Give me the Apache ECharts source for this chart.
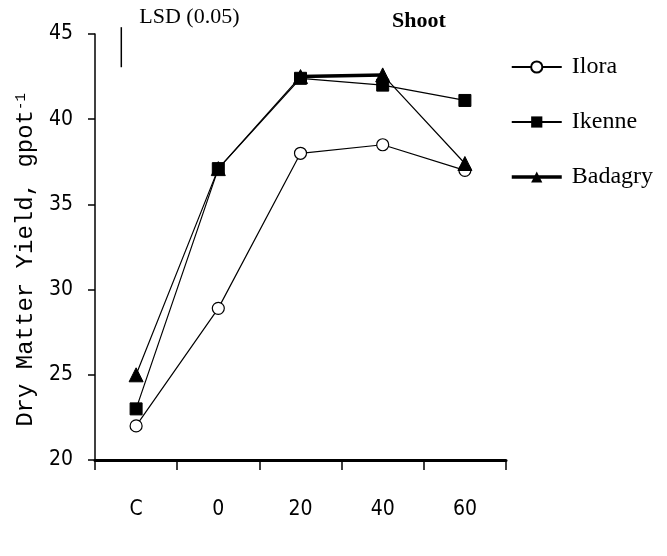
<!DOCTYPE html>
<html>
<head>
<meta charset="utf-8">
<script src="https://cdn.jsdelivr.net/npm/echarts@6/dist/echarts.min.js"></script>
<style>
html,body{margin:0;padding:0;background:#fff;}
#main{width:667px;height:556px;}
</style>
</head>
<body>
<div id="main"></div>
<script>
const categories = ['C', '0', '20', '40', '60'];
const ilora   = [22.0, 28.9, 38.0, 38.5, 37.0];
const ikenne  = [23.0, 37.1, 42.4, 42.0, 41.1];
const badagry = [25.0, 37.1, 42.5, 42.6, 37.4];
const yTicks = { min: 20, max: 45, interval: 5 };
const lsdValue = 2.35;
const lsdTop = 45.4;

const tickFont = "'DejaVu Sans Condensed', 'Liberation Sans', sans-serif";
const serifFont = "'Liberation Serif', serif";

const chart = echarts.init(document.getElementById('main'), null, { renderer: 'canvas' });

const thin = { color: '#000', width: 1.2 };

chart.setOption({
  animation: false,
  backgroundColor: '#fff',
  title: {
    text: 'Shoot',
    left: 387, top: 5,
    textStyle: { fontFamily: serifFont, fontWeight: 'bold', fontSize: 22, color: '#000' }
  },
  grid: { left: 95, top: 34, right: 161, bottom: 96, containLabel: false },
  legend: {
    orient: 'vertical',
    left: 505, top: 50,
    itemWidth: 50, itemHeight: 14, itemGap: 31,
    textStyle: { fontFamily: serifFont, fontSize: 24, color: '#000', padding: [0, 0, 0, 5] },
    data: [
      { name: 'Ilora' },
      { name: 'Ikenne' },
      { name: 'Badagry', lineStyle: { width: 3.5 } }
    ]
  },
  xAxis: {
    type: 'category',
    data: categories,
    boundaryGap: true,
    axisLine: { lineStyle: { color: '#000', width: 3 } },
    axisTick: { show: true, length: 10, lineStyle: { color: '#000', width: 1.5 } },
    axisLabel: { margin: 39, fontFamily: tickFont, fontSize: 21, color: '#000' },
    splitLine: { show: false }
  },
  yAxis: {
    type: 'value',
    min: yTicks.min, max: yTicks.max, interval: yTicks.interval,
    name: '{a|Dry Matter Yield, gpot}{b|-1}',
    nameLocation: 'middle',
    nameRotate: 90,
    nameGap: 55,
    nameTextStyle: {
      padding: [0, 26, 0, 0],
      rich: {
        a: { fontFamily: "'Liberation Mono', monospace", fontSize: 24, color: '#000' },
        b: { fontFamily: "'Liberation Mono', monospace", fontSize: 14, color: '#000', verticalAlign: 'top' }
      }
    },
    axisLine: { show: true, lineStyle: { color: '#000', width: 1.5 } },
    axisTick: { show: true, length: 7, lineStyle: { color: '#000', width: 1.5 } },
    axisLabel: { margin: 22, fontFamily: tickFont, fontSize: 21, color: '#000' },
    splitLine: { show: false }
  },
  series: [
    {
      name: 'Ilora', type: 'line', data: ilora,
      symbol: 'circle', symbolSize: 12,
      itemStyle: { color: '#fff', borderColor: '#000', borderWidth: 1.2 },
      lineStyle: thin, z: 3
    },
    {
      name: 'Ikenne', type: 'line', data: ikenne,
      symbol: 'rect', symbolSize: 12,
      itemStyle: { color: '#000', borderColor: '#000' },
      lineStyle: thin, z: 4
    },
    {
      name: 'Badagry', type: 'line', data: badagry,
      symbol: 'triangle', symbolSize: 14,
      itemStyle: { color: '#000', borderColor: '#000' },
      lineStyle: thin, z: 5
    },
    {
      name: 'BadagryPlateau', type: 'line',
      data: badagry.map((v, i) => (i === 2 || i === 3) ? v : null),
      symbol: 'none', connectNulls: false,
      lineStyle: { color: '#000', width: 3.5 }, z: 5, silent: true
    }
  ]
});

// LSD bar drawn from its value through the y scale
const xC = chart.convertToPixel({ xAxisIndex: 0 }, 0);
const bandW = chart.convertToPixel({ xAxisIndex: 0 }, 1) - xC;
const yTop = chart.convertToPixel({ yAxisIndex: 0 }, lsdTop);
const yBot = chart.convertToPixel({ yAxisIndex: 0 }, lsdTop - lsdValue);
const xL = xC - bandW * 0.18;
chart.setOption({
  graphic: [
    { type: 'line', shape: { x1: xL, y1: yTop, x2: xL, y2: yBot }, style: { stroke: '#000', lineWidth: 1.5 } },
    { type: 'text', x: xL + 18, y: 6, style: { text: 'LSD (0.05)', fontFamily: serifFont, fontSize: 22, fill: '#000' } }
  ]
});
</script>
</body>
</html>
